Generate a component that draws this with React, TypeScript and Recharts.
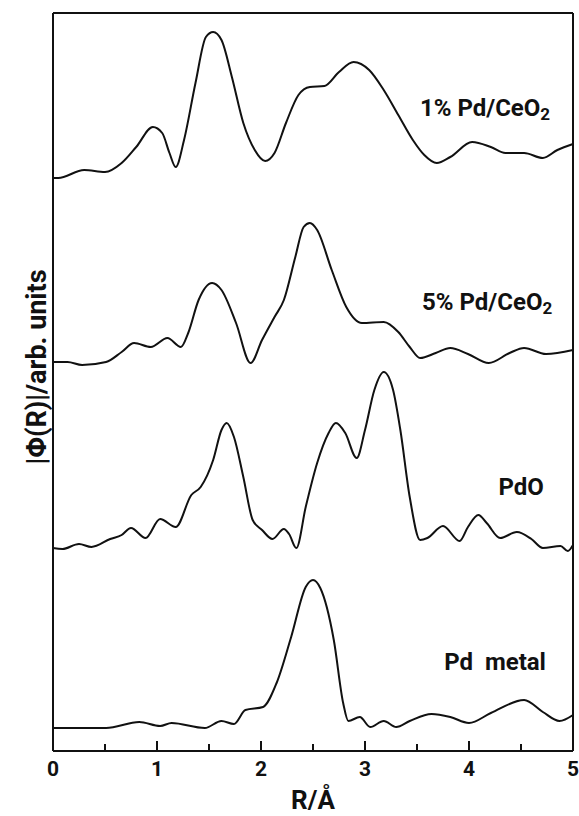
import { LineChart, Line, XAxis, YAxis, ReferenceDot, ReferenceLine } from "recharts";

// |Φ(R)| magnitudes, stacked with their own vertical offsets (arb. units)
const pd1CeO2 = [
  { r: 0, v: 57.3 }, { r: 0.05, v: 57.3 }, { r: 0.3, v: 58.1 }, { r: 0.5, v: 57.9 },
  { r: 0.66, v: 58.8 }, { r: 0.8, v: 60.4 }, { r: 0.96, v: 62.4 }, { r: 1.05, v: 61.8 },
  { r: 1.12, v: 59.8 }, { r: 1.18, v: 58.4 }, { r: 1.26, v: 61.1 }, { r: 1.37, v: 66.8 },
  { r: 1.47, v: 71.4 }, { r: 1.54, v: 71.9 }, { r: 1.62, v: 71.1 }, { r: 1.72, v: 67.4 },
  { r: 1.83, v: 62.8 }, { r: 1.94, v: 60.1 }, { r: 2.04, v: 59.0 }, { r: 2.13, v: 59.8 },
  { r: 2.24, v: 62.8 }, { r: 2.36, v: 65.6 }, { r: 2.47, v: 66.4 }, { r: 2.61, v: 66.5 },
  { r: 2.75, v: 67.9 }, { r: 2.89, v: 68.9 }, { r: 3.04, v: 68.1 }, { r: 3.18, v: 66.1 },
  { r: 3.32, v: 63.6 }, { r: 3.46, v: 61.1 }, { r: 3.57, v: 59.6 }, { r: 3.69, v: 58.8 },
  { r: 3.82, v: 59.4 }, { r: 4.03, v: 60.9 }, { r: 4.21, v: 60.4 }, { r: 4.35, v: 59.8 },
  { r: 4.53, v: 59.8 }, { r: 4.71, v: 59.3 }, { r: 4.85, v: 60.1 }, { r: 5.0, v: 60.7 },
];

const pd5CeO2 = [
  { r: 0, v: 38.9 }, { r: 0.14, v: 38.9 }, { r: 0.28, v: 38.6 }, { r: 0.51, v: 38.9 },
  { r: 0.66, v: 39.9 }, { r: 0.78, v: 40.8 }, { r: 0.94, v: 40.4 }, { r: 1.1, v: 41.3 },
  { r: 1.23, v: 40.4 }, { r: 1.3, v: 41.8 }, { r: 1.4, v: 45.1 }, { r: 1.53, v: 46.8 },
  { r: 1.62, v: 46.1 }, { r: 1.76, v: 42.8 }, { r: 1.9, v: 38.8 }, { r: 2.01, v: 41.1 },
  { r: 2.13, v: 43.4 }, { r: 2.22, v: 45.1 }, { r: 2.33, v: 49.4 }, { r: 2.41, v: 52.4 },
  { r: 2.47, v: 52.8 }, { r: 2.54, v: 52.1 }, { r: 2.68, v: 48.1 }, { r: 2.82, v: 44.4 },
  { r: 2.97, v: 42.8 }, { r: 3.18, v: 42.9 }, { r: 3.32, v: 41.9 }, { r: 3.43, v: 40.4 },
  { r: 3.53, v: 39.3 }, { r: 3.68, v: 39.8 }, { r: 3.82, v: 40.3 }, { r: 3.99, v: 39.7 },
  { r: 4.19, v: 38.8 }, { r: 4.39, v: 39.8 }, { r: 4.53, v: 40.3 }, { r: 4.74, v: 39.7 },
  { r: 5.0, v: 40.1 },
];

const pdO = [
  { r: 0, v: 20.3 }, { r: 0.09, v: 20.2 }, { r: 0.25, v: 20.7 }, { r: 0.37, v: 20.4 },
  { r: 0.55, v: 21.2 }, { r: 0.66, v: 21.6 }, { r: 0.75, v: 22.3 }, { r: 0.89, v: 21.3 },
  { r: 1.03, v: 23.2 }, { r: 1.18, v: 22.4 }, { r: 1.33, v: 25.6 }, { r: 1.42, v: 26.4 },
  { r: 1.54, v: 29.1 }, { r: 1.62, v: 32.1 }, { r: 1.67, v: 32.8 }, { r: 1.74, v: 31.4 },
  { r: 1.83, v: 27.4 }, { r: 1.92, v: 23.1 }, { r: 2.01, v: 22.1 }, { r: 2.11, v: 21.2 },
  { r: 2.22, v: 22.2 }, { r: 2.27, v: 21.7 }, { r: 2.34, v: 20.3 }, { r: 2.43, v: 24.4 },
  { r: 2.54, v: 28.8 }, { r: 2.65, v: 31.8 }, { r: 2.72, v: 32.8 }, { r: 2.81, v: 31.8 },
  { r: 2.92, v: 29.3 }, { r: 3.0, v: 32.1 }, { r: 3.09, v: 36.1 }, { r: 3.18, v: 37.9 },
  { r: 3.27, v: 36.1 }, { r: 3.34, v: 32.1 }, { r: 3.43, v: 25.4 }, { r: 3.53, v: 21.1 },
  { r: 3.6, v: 21.3 }, { r: 3.75, v: 22.5 }, { r: 3.91, v: 21.0 }, { r: 3.99, v: 22.4 },
  { r: 4.09, v: 23.6 }, { r: 4.17, v: 22.8 }, { r: 4.3, v: 21.3 }, { r: 4.46, v: 21.9 },
  { r: 4.6, v: 21.2 }, { r: 4.71, v: 20.3 }, { r: 4.88, v: 20.5 }, { r: 4.95, v: 20.0 },
  { r: 5.0, v: 20.6 },
];

const pdMetal = [
  { r: 0, v: 2.3 }, { r: 0.51, v: 2.3 }, { r: 0.83, v: 2.9 }, { r: 1.03, v: 2.5 },
  { r: 1.14, v: 2.8 }, { r: 1.46, v: 2.3 }, { r: 1.62, v: 3.0 }, { r: 1.74, v: 2.7 },
  { r: 1.85, v: 4.1 }, { r: 2.02, v: 4.4 }, { r: 2.15, v: 6.8 }, { r: 2.29, v: 11.4 },
  { r: 2.43, v: 16.4 }, { r: 2.5, v: 17.1 }, { r: 2.57, v: 16.3 }, { r: 2.7, v: 11.1 },
  { r: 2.79, v: 4.8 }, { r: 2.84, v: 3.0 }, { r: 2.95, v: 3.4 }, { r: 3.05, v: 2.4 },
  { r: 3.18, v: 3.0 }, { r: 3.3, v: 2.4 }, { r: 3.43, v: 3.0 }, { r: 3.64, v: 3.7 },
  { r: 3.82, v: 3.4 }, { r: 4.0, v: 2.8 }, { r: 4.21, v: 3.8 }, { r: 4.53, v: 5.1 },
  { r: 4.71, v: 3.9 }, { r: 4.87, v: 3.0 }, { r: 5.0, v: 3.6 },
];

const rTicks = [0, 0.5, 1, 1.5, 2, 2.5, 3, 3.5, 4, 4.5, 5];
const Y_TOP = 73.8;

const INK = "#111";
const FONT = "Roboto, 'DejaVu Sans', sans-serif";

// inward tick marks, numbers only on whole Ångström values
function RTick(props: any) {
  const { x, y, payload } = props;
  const major = Number.isInteger(payload.value);
  return (
    <g>
      <line x1={x} x2={x} y1={y} y2={y - (major ? 10 : 7)} stroke={INK} strokeWidth={2} />
      {major && (
        <text x={x} y={y + 25} textAnchor="middle" fontFamily={FONT} fontWeight={700} fontSize={21} fill={INK}>
          {payload.value}
        </text>
      )}
    </g>
  );
}

function XTitle(props: any) {
  const { viewBox } = props;
  return (
    <text x={viewBox.x + viewBox.width / 2} y={viewBox.y + 58} textAnchor="middle" fontFamily={FONT} fontWeight={700} fontSize={26} fill={INK}>
      R/Å
    </text>
  );
}

function YTitle(props: any) {
  const { viewBox } = props;
  const cx = viewBox.x + viewBox.width - 17;
  const cy = viewBox.y + viewBox.height / 2 - 15;
  return (
    <text
      x={cx}
      y={cy}
      transform={`rotate(-90 ${cx} ${cy})`}
      textAnchor="middle"
      dominantBaseline="central"
      fontFamily={FONT}
      fontWeight={700}
      fontSize={28}
      textLength={195}
      lengthAdjust="spacingAndGlyphs"
      fill={INK}
    >
      |Φ(R)|/arb. units
    </text>
  );
}

function SampleLabel(props: any) {
  const { viewBox, main, sub } = props;
  const x = viewBox.x + viewBox.width / 2;
  const y = viewBox.y + viewBox.height / 2;
  return (
    <text
      x={x}
      y={y}
      textAnchor="end"
      dominantBaseline="central"
      fontFamily={FONT}
      fontWeight={700}
      fontSize={24}
      fill={INK}
      style={{ whiteSpace: "pre" }}
    >
      {main}
      {sub && <tspan dy={6} fontSize={17}>{sub}</tspan>}
    </text>
  );
}

export default function App() {
  return (
    <div style={{ position: "absolute", left: 0, top: 0, background: "#fff" }}>
      <LineChart width={579} height={816} margin={{ top: 13, right: 6, bottom: 0, left: 0 }}>
        <XAxis
          dataKey="r"
          type="number"
          domain={[0, 5]}
          ticks={rTicks}
          interval={0}
          height={65}
          tickSize={0}
          tickMargin={0}
          tickLine={false}
          tick={<RTick />}
          axisLine={{ stroke: INK, strokeWidth: 2 }}
          label={<XTitle />}
        />
        <YAxis type="number" domain={[0, Y_TOP]} allowDataOverflow width={53} tick={false} tickLine={false} axisLine={{ stroke: INK, strokeWidth: 2 }} label={<YTitle />} />

        {/* closing frame on top and right */}
        <ReferenceLine y={Y_TOP} stroke={INK} strokeWidth={2} ifOverflow="visible" />
        <ReferenceLine x={5} stroke={INK} strokeWidth={2} ifOverflow="visible" />

        <Line data={pd1CeO2} dataKey="v" type="monotone" stroke={INK} strokeWidth={2} dot={false} isAnimationActive={false} />
        <Line data={pd5CeO2} dataKey="v" type="monotone" stroke={INK} strokeWidth={2} dot={false} isAnimationActive={false} />
        <Line data={pdO} dataKey="v" type="monotone" stroke={INK} strokeWidth={2} dot={false} isAnimationActive={false} />
        <Line data={pdMetal} dataKey="v" type="monotone" stroke={INK} strokeWidth={2} dot={false} isAnimationActive={false} />

        <ReferenceDot x={4.78} y={64.3} r={0} label={<SampleLabel main="1% Pd/CeO" sub="2" />} />
        <ReferenceDot x={4.8} y={44.9} r={0} label={<SampleLabel main="5% Pd/CeO" sub="2" />} />
        <ReferenceDot x={4.72} y={26.4} r={0} label={<SampleLabel main="PdO" />} />
        <ReferenceDot x={4.74} y={8.9} r={0} label={<SampleLabel main="Pd  metal" />} />
      </LineChart>
    </div>
  );
}
